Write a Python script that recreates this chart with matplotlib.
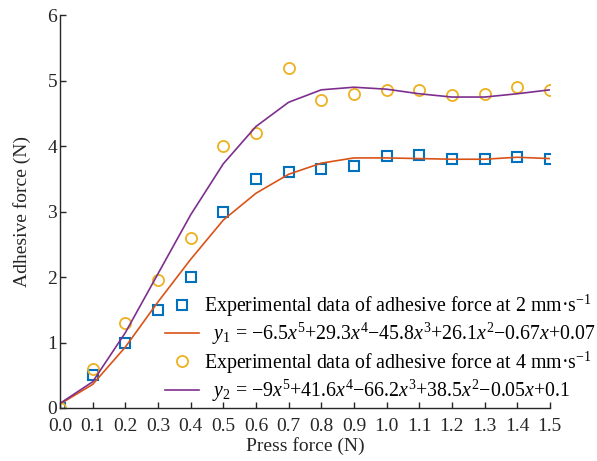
import numpy as np
import matplotlib
matplotlib.use('Agg')
import matplotlib.pyplot as plt

plt.rcParams['font.family'] = ['Liberation Serif', 'DejaVu Serif']
plt.rcParams['mathtext.fontset'] = 'custom'
plt.rcParams['mathtext.rm'] = 'Liberation Serif'
plt.rcParams['mathtext.it'] = 'Liberation Serif:italic'

# data
press = [0.0, 0.1, 0.2, 0.3, 0.4, 0.5, 0.6, 0.7, 0.8, 0.9, 1.0, 1.1, 1.2, 1.3, 1.4, 1.5]
exp_2mm = [0.0, 0.5, 1.0, 1.5, 2.0, 3.0, 3.5, 3.6, 3.65, 3.7, 3.85, 3.86, 3.8, 3.8, 3.84, 3.8]
fit_2mm = [0.06, 0.36, 0.93, 1.62, 2.27, 2.87, 3.28, 3.57, 3.74, 3.82, 3.82, 3.81, 3.8, 3.8, 3.83, 3.81]
exp_4mm = [0.0, 0.6, 1.3, 1.95, 2.6, 4.0, 4.2, 5.2, 4.7, 4.8, 4.85, 4.86, 4.78, 4.8, 4.9, 4.85]
fit_4mm = [0.07, 0.4, 1.15, 2.05, 2.95, 3.73, 4.3, 4.67, 4.86, 4.9, 4.87, 4.8, 4.75, 4.75, 4.8, 4.86]

lab_exp2 = r'Experimental data of adhesive force at 2 mm·s$^{-1}$'
lab_fit2 = r'  $y_1$ = −6.5$x^5$+29.3$x^4$−45.8$x^3$+26.1$x^2$−0.67$x$+0.07'
lab_exp4 = r'Experimental data of adhesive force at 4 mm·s$^{-1}$'
lab_fit4 = r'  $y_2$ = −9$x^5$+41.6$x^4$−66.2$x^3$+38.5$x^2$−0.05$x$+0.1'

c_blue = '#0072BD'
c_red = '#D95319'
c_yel = '#EDB120'
c_pur = '#7E2F8E'

fig = plt.figure(figsize=(5.97, 4.61), dpi=100)
ax = fig.add_axes([0.1005, 0.115, 0.8205, 0.852])

ax.plot(press, exp_2mm, 's', mfc='none', mec=c_blue, ms=6.5, mew=1.5, label=lab_exp2)
ax.plot(press, fit_2mm, '-', color=c_red, lw=1.2, label=lab_fit2)
ax.plot(press, exp_4mm, 'o', mfc='none', mec=c_yel, ms=8, mew=1.3, label=lab_exp4)
ax.plot(press, fit_4mm, '-', color=c_pur, lw=1.2, label=lab_fit4)

ax.set_xlim(0, 1.5)
ax.set_ylim(0, 6)
ax.set_xticks(np.arange(0, 1.51, 0.1))
ax.set_xticklabels([f'{v:.1f}' for v in np.arange(0, 1.51, 0.1)])
ax.set_yticks(range(0, 7))
ax.tick_params(direction='in', labelsize=14, colors='#262626', length=4, width=1, pad=2)
ax.tick_params(axis='x', pad=7)
ax.spines['top'].set_visible(False)
ax.spines['right'].set_visible(False)
for s in ['left', 'bottom']:
    ax.spines[s].set_color('#262626')
    ax.spines[s].set_linewidth(1)

ax.set_xlabel('Press force (N)', fontsize=14, color='#262626', labelpad=2)
ax.set_ylabel('Adhesive force (N)', fontsize=14, color='#262626', labelpad=12)

ax.legend(loc='lower left', bbox_to_anchor=(0.2764, 0.124), bbox_transform=fig.transFigure,
          frameon=False, fontsize=14.3, handlelength=1.7, handletextpad=0.25,
          labelspacing=0.1, borderpad=0, borderaxespad=0)

fig.savefig('out.png', dpi=100)
